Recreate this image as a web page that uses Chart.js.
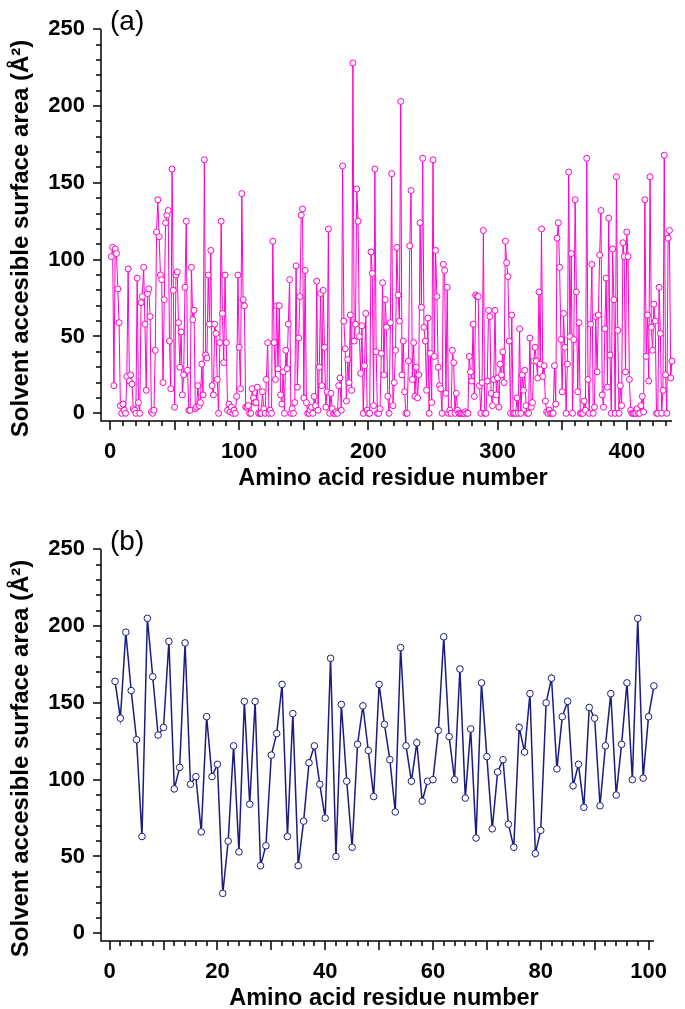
<!DOCTYPE html>
<html>
<head>
<meta charset="utf-8">
<script src="https://cdn.jsdelivr.net/npm/chart.js@4.4.1/dist/chart.umd.min.js"></script>
<style>
  html, body { margin: 0; padding: 0; background: #fff; overflow: hidden; }
  #wrap { position: relative; width: 685px; height: 1009px; }
  canvas { position: absolute; left: 0; }
  #grafico_a { top: 0; }
  #grafico_b { top: 520px; }
</style>
</head>
<body>
<div id="wrap">
  <canvas id="grafico_a" width="685" height="505"></canvas>
  <canvas id="grafico_b" width="685" height="505"></canvas>
</div>
<script>
// (a) superficie accesible por residuo, 435 residuos
const areaA = [
  102, 108, 18, 107, 104, 81, 59, 5, 0, 6,
  2, 0, 24, 94, 21, 25, 19, 3, 2, 0,
  88, 7, 0, 72, 76, 95, 58, 15, 78, 81,
  63, 1, 0, 2, 41, 118, 139, 115, 90, 87,
  20, 74, 124, 129, 132, 47, 16, 159, 80, 4,
  90, 92, 59, 30, 53, 12, 25, 82, 125, 28,
  2, 2, 95, 61, 67, 3, 4, 18, 5, 7,
  32, 12, 165, 38, 36, 90, 58, 106, 18, 12,
  58, 52, 22, 0, 46, 125, 65, 33, 90, 46,
  2, 6, 1, 4, 0, 2, 0, 11, 90, 43,
  16, 143, 74, 70, 4, 4, 5, 0, 0, 16,
  10, 7, 7, 17, 0, 0, 0, 14, 3, 0,
  22, 46, 0, 2, 0, 112, 46, 22, 70, 29,
  70, 12, 6, 27, 0, 41, 29, 58, 87, 0,
  3, 0, 7, 96, 17, 49, 76, 129, 133, 10,
  93, 7, 0, 0, 2, 4, 0, 11, 5, 86,
  2, 30, 78, 18, 80, 43, 4, 14, 120, 0,
  13, 3, 0, 0, 1, 0, 18, 23, 2, 161,
  60, 42, 8, 35, 20, 64, 15, 228, 47, 58,
  146, 125, 50, 26, 57, 0, 31, 65, 2, 0,
  0, 105, 91, 5, 159, 40, 0, 0, 3, 39,
  85, 25, 74, 56, 11, 0, 59, 156, 5, 20,
  41, 108, 77, 60, 203, 25, 47, 14, 0, 0,
  34, 109, 145, 22, 46, 11, 30, 10, 25, 124,
  69, 166, 56, 47, 15, 62, 0, 39, 7, 165,
  37, 106, 76, 30, 18, 16, 0, 97, 93, 13,
  82, 0, 2, 0, 41, 33, 0, 13, 2, 0,
  0, 0, 0, 0, 1, 0, 0, 37, 27, 21,
  58, 11, 77, 76, 76, 18, 0, 20, 119, 0,
  0, 21, 67, 63, 13, 5, 22, 67, 12, 23,
  4, 32, 25, 40, 20, 112, 98, 89, 47, 0,
  64, 0, 0, 0, 10, 0, 55, 0, 25, 15,
  28, 5, 0, 0, 49, 4, 7, 34, 43, 34,
  23, 79, 32, 120, 24, 31, 8, 1, 0, 2,
  0, 0, 0, 31, 6, 114, 124, 95, 48, 14,
  65, 43, 0, 32, 157, 50, 104, 0, 48, 139,
  79, 14, 59, 0, 0, 0, 8, 2, 166, 22,
  0, 58, 97, 0, 4, 63, 27, 64, 103, 132,
  12, 4, 55, 88, 17, 127, 38, 0, 107, 74,
  0, 154, 54, 0, 18, 5, 111, 102, 27, 118,
  102, 22, 2, 0, 0, 0, 0, 3, 0, 0,
  5, 11, 1, 139, 37, 64, 21, 154, 56, 41,
  71, 60, 0, 0, 82, 52, 0, 15, 168, 25,
  0, 114, 119, 23, 34,
];

// (b) superficie accesible por residuo, 101 residuos
const areaB = [
  164, 140, 196, 158, 126, 63, 205, 167, 129, 134,
  190, 94, 108, 189, 97, 102, 66, 141, 102, 110,
  26, 60, 122, 53, 151, 84, 151, 44, 57, 116,
  130, 162, 63, 143, 44, 73, 111, 122, 97, 75,
  179, 50, 149, 99, 56, 123, 148, 119, 89, 162,
  136, 113, 79, 186, 122, 99, 124, 86, 99, 100,
  132, 193, 128, 100, 172, 88, 133, 62, 163, 115,
  68, 105, 113, 71, 56, 134, 118, 156, 52, 67,
  150, 166, 107, 141, 151, 96, 110, 82, 147, 140,
  83, 122, 156, 90, 123, 163, 100, 205, 101, 141,
  161,
];

const yTicks = [0, 50, 100, 150, 200, 250];
const xTicksA = [0, 100, 200, 300, 400];
const xTicksB = [0, 20, 40, 60, 80, 100];

const fuente = "'Liberation Sans', Arial, sans-serif";

// ejes, marcas menores/mayores y etiqueta del panel
const marcas = {
  id: "marcas",
  afterDraw(chart, args, opts) {
    const { ctx, chartArea } = chart;
    const sx = chart.scales.x;
    const sy = chart.scales.y;
    ctx.save();
    ctx.strokeStyle = "#000";
    ctx.lineWidth = 1.5;
    ctx.beginPath();
    ctx.moveTo(chartArea.left, chartArea.top);
    ctx.lineTo(chartArea.left, chartArea.bottom);
    ctx.lineTo(chartArea.right, chartArea.bottom);
    for (let v = 0; v <= 250; v += 10) {
      const py = Math.round(sy.getPixelForValue(v));
      const largo = v % 50 === 0 ? 8 : 5;
      ctx.moveTo(chartArea.left, py);
      ctx.lineTo(chartArea.left - largo, py);
    }
    for (let v = 0; v <= opts.xFin; v += opts.menor) {
      const px = Math.round(sx.getPixelForValue(v));
      const largo = v % opts.mayor === 0 ? 9 : 5;
      ctx.moveTo(px, chartArea.bottom);
      ctx.lineTo(px, chartArea.bottom + largo);
    }
    ctx.stroke();
    ctx.fillStyle = "#000";
    ctx.font = "28px " + fuente;
    ctx.textBaseline = "alphabetic";
    ctx.fillText(opts.texto, 110, 30);
    ctx.restore();
  },
};

const crearGrafico = (id, valores, color, cfg) => {
  const canvas = document.getElementById(id).getContext("2d");
  const puntos = valores.map((v, i) => ({ x: i + 1, y: v }));
  return new Chart(canvas, {
    type: "line",
    data: {
      datasets: [
        {
          data: puntos,
          borderColor: color,
          borderWidth: cfg.grosor,
          pointRadius: cfg.radio,
          pointBorderWidth: 1,
          pointBackgroundColor: "#ffffff",
          pointBorderColor: color,
          tension: 0,
          clip: false,
        },
      ],
    },
    options: {
      responsive: false,
      animation: false,
      layout: { padding: { top: 13, right: 13, left: 0, bottom: 0 } },
      plugins: {
        legend: { display: false },
        tooltip: { enabled: false },
        marcas: { xFin: cfg.xFin, menor: cfg.menor, mayor: cfg.mayor, texto: cfg.texto },
      },
      scales: {
        x: {
          type: "linear",
          min: cfg.xMin,
          max: cfg.xMax,
          grid: { display: false, drawTicks: false },
          border: { display: false },
          afterBuildTicks: (s) => {
            s.ticks = cfg.xTicks.map((v) => ({ value: v }));
          },
          afterFit: (s) => {
            s.height = 84;
          },
          ticks: {
            color: "#000",
            padding: 18,
            maxRotation: 0,
            autoSkip: false,
            font: { family: fuente, size: 22, weight: "bold" },
          },
          title: {
            display: true,
            text: "\u00a0\u00a0Amino acid residue number",
            color: "#000",
            padding: { top: 0, bottom: 12 },
            font: { family: fuente, size: 23.5, weight: "bold" },
          },
        },
        y: {
          min: -5,
          max: 250,
          grid: { display: false, drawTicks: false },
          border: { display: false },
          afterBuildTicks: (s) => {
            s.ticks = yTicks.map((v) => ({ value: v }));
          },
          afterFit: (s) => {
            s.width = 101;
          },
          ticks: {
            color: "#000",
            padding: 16,
            font: { family: fuente, size: 22, weight: "bold" },
          },
          title: {
            display: true,
            text: "Solvent accesible surface area (Å²)\u00a0\u00a0\u00a0\u00a0",
            color: "#000",
            padding: { top: 7, bottom: 0 },
            font: { family: fuente, size: 24, weight: "bold" },
          },
        },
      },
    },
    plugins: [marcas],
  });
};

crearGrafico("grafico_a", areaA, "#ff00cc", {
  grosor: 1,
  radio: 3,
  xMin: -7,
  xMax: 435,
  xTicks: xTicksA,
  xFin: 430,
  menor: 10,
  mayor: 50,
  texto: "(a)",
});

crearGrafico("grafico_b", areaB, "#1c1c80", {
  grosor: 1.5,
  radio: 3.3,
  xMin: -1.6,
  xMax: 101,
  xTicks: xTicksB,
  xFin: 100,
  menor: 2,
  mayor: 10,
  texto: "(b)",
});
</script>
</body>
</html>
